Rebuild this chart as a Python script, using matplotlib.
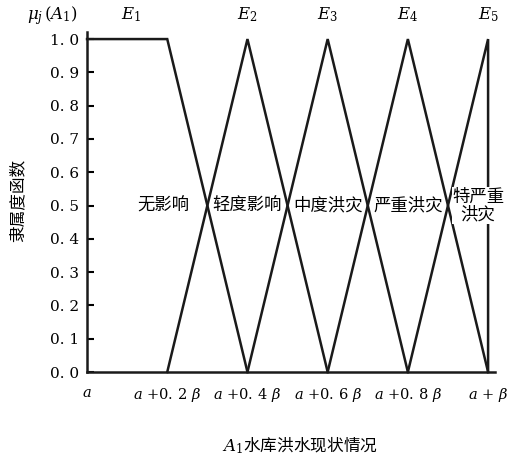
import matplotlib.pyplot as plt

plt.rcParams['font.family'] = ['DejaVu Serif', 'Noto Sans CJK SC']
plt.rcParams['mathtext.fontset'] = 'dejavuserif'

# membership function break points (in units of beta, from a)
e1_x = [0.0, 0.2, 0.4]
e1_y = [1.0, 1.0, 0.0]
e2_x = [0.2, 0.4, 0.6]
e2_y = [0.0, 1.0, 0.0]
e3_x = [0.4, 0.6, 0.8]
e3_y = [0.0, 1.0, 0.0]
e4_x = [0.6, 0.8, 1.0]
e4_y = [0.0, 1.0, 0.0]
e5_x = [0.8, 1.0, 1.0]
e5_y = [0.0, 1.0, 0.0]

grade_names = ["无影响", "轻度影响", "中度洪灾", "严重洪灾", "特严重\n洪灾"]
grade_pos = [0.19, 0.4, 0.6, 0.8, 0.975]
curve_names = ["$E_1$", "$E_2$", "$E_3$", "$E_4$", "$E_5$"]
curve_pos = [0.11, 0.4, 0.6, 0.8, 1.0]

x_ticks = [0.0, 0.2, 0.4, 0.6, 0.8, 1.0]
x_labels = [r"$a$", r"$a$ +0. 2 $\beta$", r"$a$ +0. 4 $\beta$",
            r"$a$ +0. 6 $\beta$", r"$a$ +0. 8 $\beta$", r"$a$ + $\beta$"]
y_ticks = [0.0, 0.1, 0.2, 0.3, 0.4, 0.5, 0.6, 0.7, 0.8, 0.9, 1.0]
y_labels = ["0. 0", "0. 1", "0. 2", "0. 3", "0. 4", "0. 5",
            "0. 6", "0. 7", "0. 8", "0. 9", "1. 0"]

fig = plt.figure(figsize=(5.12, 4.67), dpi=100)
ax = fig.add_axes([0.170, 0.2034, 0.797, 0.7272])

for xs, ys in [(e1_x, e1_y), (e2_x, e2_y), (e3_x, e3_y), (e4_x, e4_y), (e5_x, e5_y)]:
    ax.plot(xs, ys, color="#1a1a1a", lw=1.8, solid_joinstyle="miter", clip_on=False)

ax.set_xlim(0, 1.0175)
ax.set_ylim(0, 1.02)

for sp in ["top", "right"]:
    ax.spines[sp].set_visible(False)
for sp in ["left", "bottom"]:
    ax.spines[sp].set_linewidth(1.8)
    ax.spines[sp].set_color("#1a1a1a")

ax.set_yticks(y_ticks)
ax.set_yticklabels(y_labels, fontsize=11)
ax.tick_params(axis="y", direction="in", length=5, width=1.5, pad=6)
ax.set_xticks(x_ticks)
ax.set_xticklabels(x_labels, fontsize=10.5)
ax.tick_params(axis="x", length=0, pad=10)

for name, pos in zip(grade_names, grade_pos):
    ax.text(pos, 0.5, name, ha="center", va="center", fontsize=12.5,
            family=['Noto Sans CJK SC'], linespacing=1.0,
            bbox=dict(facecolor="white", edgecolor="none", pad=0.3))

for name, pos in zip(curve_names, curve_pos):
    ax.text(pos, 1.072, name, ha="center", va="center", fontsize=12,
            clip_on=False)

ax.text(-0.085, 1.072, r"$\mu_j\,(A_1)$", ha="center", va="center", fontsize=12,
        clip_on=False)

fig.text(0.035, 0.57, "隶属度函数", rotation=90, ha="center", va="center",
         fontsize=12, family=['Noto Sans CJK SC'])
fig.text(0.585, 0.047, r"$A_1$水库洪水现状情况", ha="center", va="center",
         fontsize=12, family=['Noto Sans CJK SC', 'DejaVu Serif'])

fig.savefig("out.png", dpi=100)
